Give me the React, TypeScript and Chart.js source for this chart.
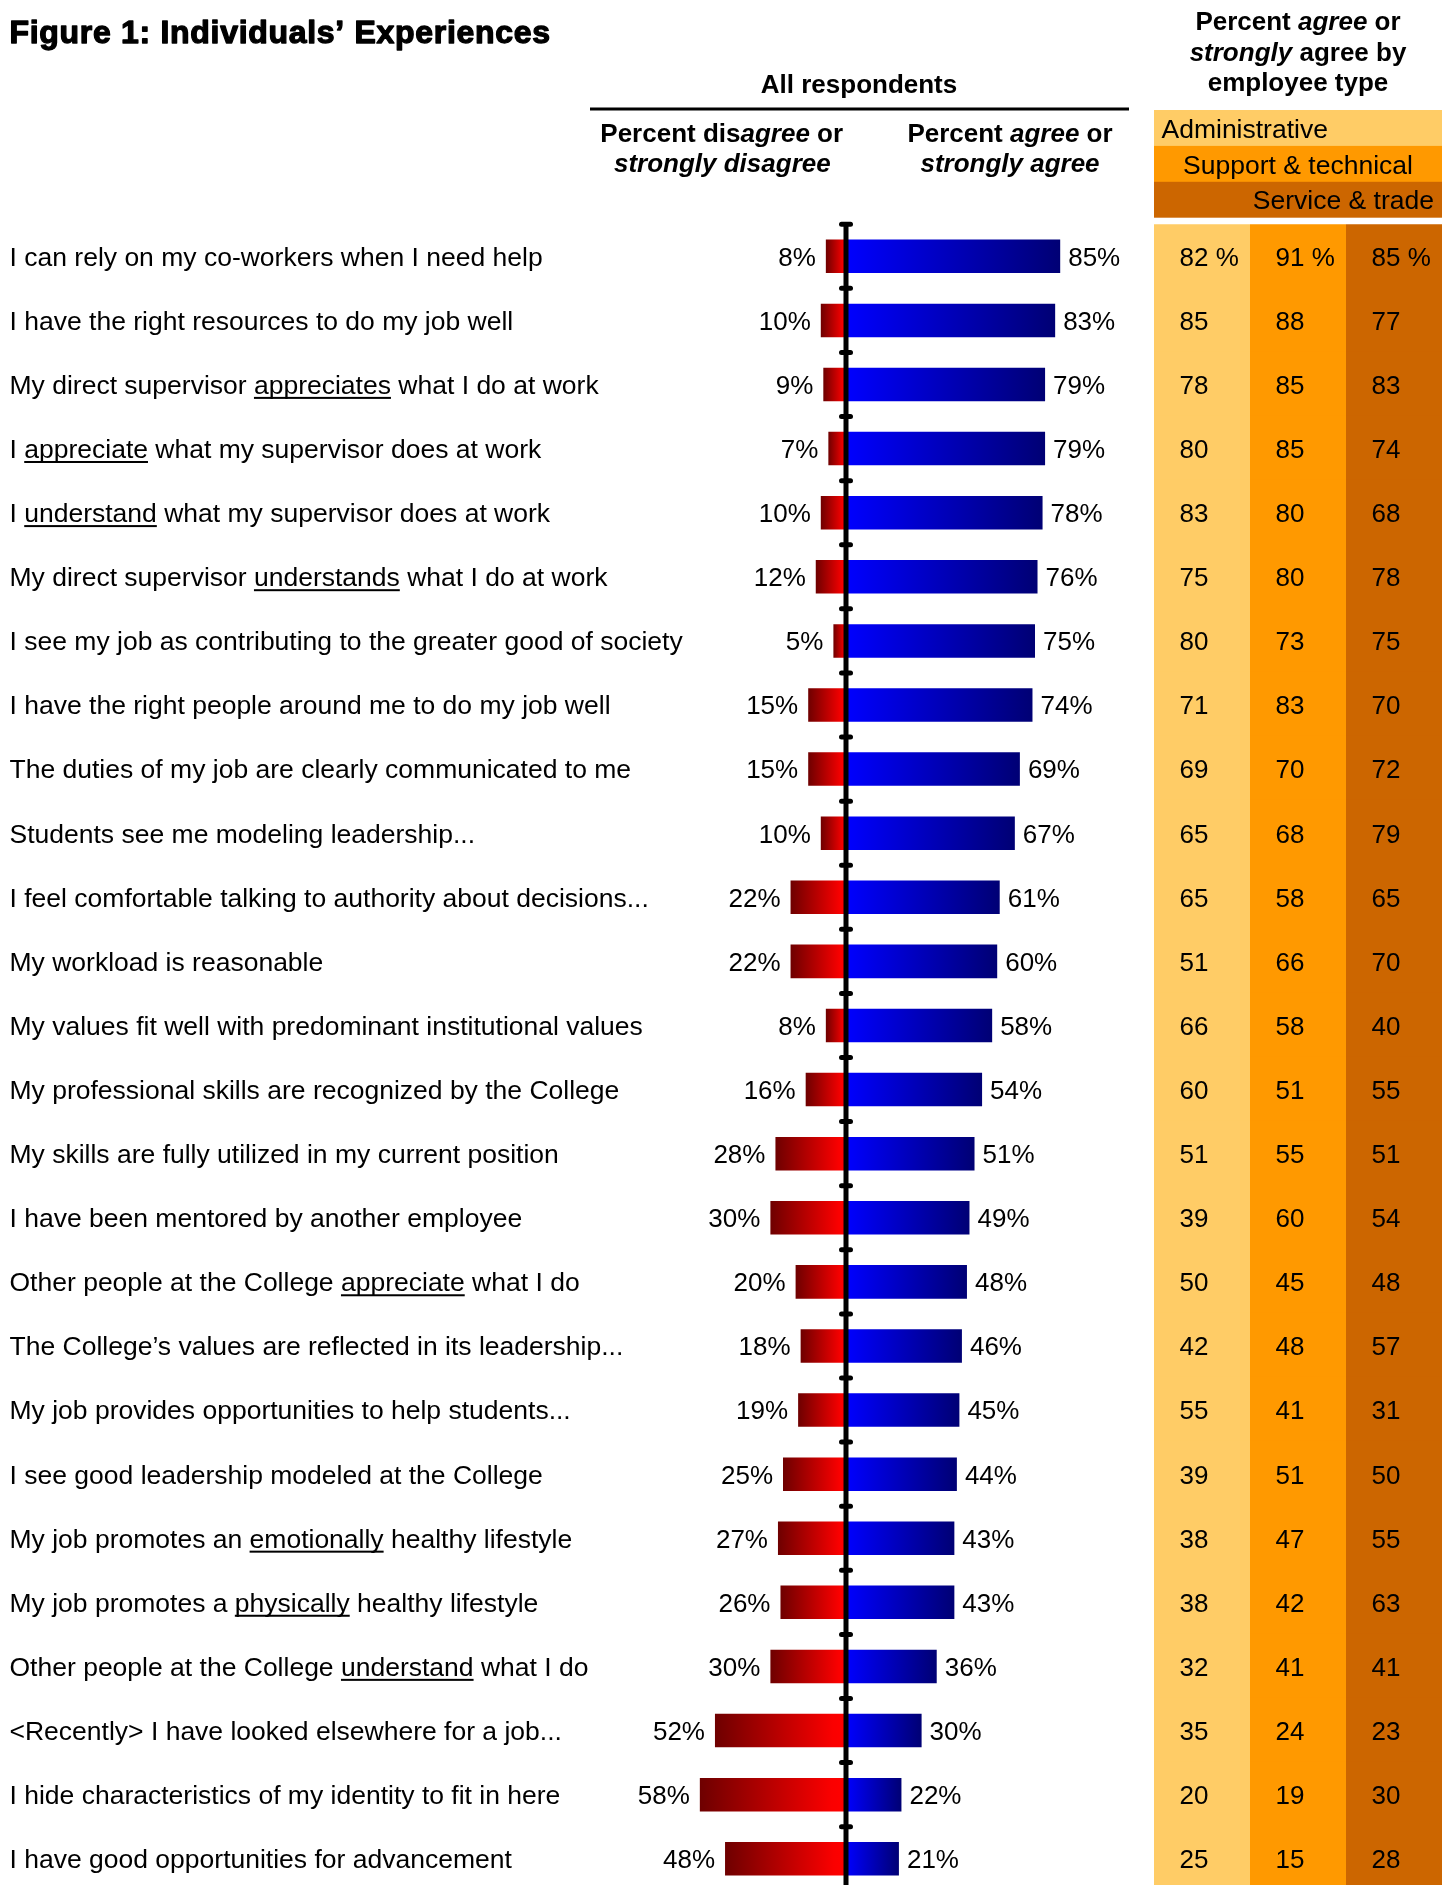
import React, { useEffect, useRef } from "react";
import { Chart, registerables } from "chart.js";

Chart.register(...registerables);

// ---------- data ----------
const categories = [
  "I can rely on my co-workers when I need help",
  "I have the right resources to do my job well",
  "My direct supervisor _appreciates_ what I do at work",
  "I _appreciate_ what my supervisor does at work",
  "I _understand_ what my supervisor does at work",
  "My direct supervisor _understands_ what I do at work",
  "I see my job as contributing to the greater good of society",
  "I have the right people around me to do my job well",
  "The duties of my job are clearly communicated to me",
  "Students see me modeling leadership...",
  "I feel comfortable talking to authority about decisions...",
  "My workload is reasonable",
  "My values fit well with predominant institutional values",
  "My professional skills are recognized by the College",
  "My skills are fully utilized in my current position",
  "I have been mentored by another employee",
  "Other people at the College _appreciate_ what I do",
  "The College\u2019s values are reflected in its leadership...",
  "My job provides opportunities to help students...",
  "I see good leadership modeled at the College",
  "My job promotes an _emotionally_ healthy lifestyle",
  "My job promotes a _physically_ healthy lifestyle",
  "Other people at the College _understand_ what I do",
  "<Recently> I have looked elsewhere for a job...",
  "I hide characteristics of my identity to fit in here",
  "I have good opportunities for advancement",
];

const disagreePct = [8, 10, 9, 7, 10, 12, 5, 15, 15, 10, 22, 22, 8, 16, 28, 30, 20, 18, 19, 25, 27, 26, 30, 52, 58, 48];
const agreePct = [85, 83, 79, 79, 78, 76, 75, 74, 69, 67, 61, 60, 58, 54, 51, 49, 48, 46, 45, 44, 43, 43, 36, 30, 22, 21];

const adminPct = [82, 85, 78, 80, 83, 75, 80, 71, 69, 65, 65, 51, 66, 60, 51, 39, 50, 42, 55, 39, 38, 38, 32, 35, 20, 25];
const supportPct = [91, 88, 85, 85, 80, 80, 73, 83, 70, 68, 58, 66, 58, 51, 55, 60, 45, 48, 41, 51, 47, 42, 41, 24, 19, 15];
const servicePct = [85, 77, 83, 74, 68, 78, 75, 70, 72, 79, 65, 70, 40, 55, 51, 54, 48, 57, 31, 50, 55, 63, 41, 23, 30, 28];

const employeeTypes = ["Administrative", "Support & technical", "Service & trade"];
const typeColors = ["#FFCC66", "#FF9900", "#CC6600"];

const titleText = "Figure 1: Individuals\u2019 Experiences";

// ---------- layout / style ----------
const W = 1451;
const H = 1891;
const FONT = '"Liberation Sans", Arial, Helvetica, sans-serif';
const ZERO_X = 846;
const PX_PER_PCT = 2.52;
const TABLE_LEFT = 1154;
const TABLE_COL_W = 96;

type Seg = { t: string; i?: boolean; u?: boolean };

function parseLabel(s: string): Seg[] {
  return s.split("_").map((t, k) => ({ t, u: k % 2 === 1 })).filter((s) => s.t.length > 0);
}

function drawSegs(
  c: CanvasRenderingContext2D,
  segs: Seg[],
  x: number,
  y: number,
  size: number,
  bold: boolean,
  align: "left" | "center" | "right"
) {
  const f = (it?: boolean) => `${it ? "italic " : ""}${bold ? "bold " : ""}${size}px ${FONT}`;
  const widths = segs.map((s) => {
    c.font = f(s.i);
    return c.measureText(s.t).width;
  });
  const total = widths.reduce((a, b) => a + b, 0);
  let sx = align === "center" ? x - total / 2 : align === "right" ? x - total : x;
  c.textAlign = "left";
  c.textBaseline = "alphabetic";
  segs.forEach((s, k) => {
    c.font = f(s.i);
    c.fillText(s.t, sx, y);
    if (s.u) c.fillRect(sx, y + 3, widths[k], 2);
    sx += widths[k];
  });
}

function gradientFor(ctx: any, stops: [number, string][]) {
  const chart = ctx.chart;
  const xs = chart.scales && chart.scales.x;
  const v = ctx.raw;
  if (ctx.type !== "data" || !xs || typeof v !== "number") return stops[0][1];
  const x0 = xs.getPixelForValue(0);
  const x1 = xs.getPixelForValue(v);
  if (!isFinite(x0) || !isFinite(x1) || Math.abs(x1 - x0) < 0.5) return stops[0][1];
  const g = chart.ctx.createLinearGradient(x0, 0, x1, 0);
  stops.forEach(([o, col]) => g.addColorStop(o, col));
  return g;
}

const redStops: [number, string][] = [
  [0, "#ff0000"],
  [0.1, "#fa0000"],
  [1, "#6e0000"],
];
const blueStops: [number, string][] = [
  [0, "#0000ff"],
  [1, "#000074"],
];

const overlayPlugin = {
  id: "overlay",
  afterDatasetsDraw(chart: any) {
    const c: CanvasRenderingContext2D = chart.ctx;
    const xs = chart.scales.x;
    const xt = chart.scales.xt;
    const ys = chart.scales.y;
    const area = chart.chartArea;
    const n = categories.length;
    const band = ys.getPixelForValue(1) - ys.getPixelForValue(0);
    c.save();

    // central axis
    const x0 = xs.getPixelForValue(0);
    c.strokeStyle = "#000";
    c.lineWidth = 5;
    c.lineCap = "butt";
    c.beginPath();
    c.moveTo(x0, area.top - 1);
    c.lineTo(x0, area.bottom);
    c.stroke();
    // tick dots at category boundaries
    c.lineCap = "round";
    c.lineWidth = 5;
    for (let i = 0; i <= n; i++) {
      const yb = ys.getPixelForValue(0) - band / 2 + i * band;
      c.beginPath();
      c.moveTo(x0 - 4.5, yb);
      c.lineTo(x0 + 4.5, yb);
      c.stroke();
    }

    c.fillStyle = "#000";
    for (let i = 0; i < n; i++) {
      const yc = ys.getPixelForValue(i);
      const base = yc + 9.4;
      // row label
      drawSegs(c, parseLabel(categories[i]), 9.5, base, 26.5, false, "left");
      // value labels
      c.font = `26px ${FONT}`;
      c.textBaseline = "alphabetic";
      c.textAlign = "right";
      c.fillText(`${disagreePct[i]}%`, xs.getPixelForValue(-disagreePct[i]) - 10, base);
      c.textAlign = "left";
      c.fillText(`${agreePct[i]}%`, xs.getPixelForValue(agreePct[i]) + 8, base);
      // table numbers
      const cols = [adminPct, supportPct, servicePct];
      cols.forEach((arr, k) => {
        const txt = i === 0 ? `${arr[i]} %` : `${arr[i]}`;
        c.textAlign = "left";
        c.fillText(txt, xt.getPixelForValue(k) + 25.5, base);
      });
    }

    // title (heavy weight)
    c.font = `bold 32px ${FONT}`;
    (c as any).letterSpacing = "0.7px";
    c.textAlign = "left";
    c.textBaseline = "alphabetic";
    c.fillText(titleText, 9.5, 42.7);
    c.lineWidth = 1.3;
    c.lineJoin = "round";
    c.strokeStyle = "#000";
    c.strokeText(titleText, 9.5, 42.7);
    (c as any).letterSpacing = "0px";

    // All respondents header
    drawSegs(c, [{ t: "All respondents" }], 859, 93.3, 26, true, "center");
    c.fillRect(590, 107.5, 539, 3);
    drawSegs(c, [{ t: "Percent dis" }, { t: "agree", i: true }, { t: " or" }], 721.7, 142.3, 26, true, "center");
    drawSegs(c, [{ t: "strongly disagree", i: true }], 722.3, 171.7, 26, true, "center");
    drawSegs(c, [{ t: "Percent " }, { t: "agree", i: true }, { t: " or" }], 1010, 142.3, 26, true, "center");
    drawSegs(c, [{ t: "strongly agree", i: true }], 1010, 171.7, 26, true, "center");

    // table header
    const tx = (xt.getPixelForValue(0) + xt.getPixelForValue(3)) / 2;
    drawSegs(c, [{ t: "Percent " }, { t: "agree", i: true }, { t: " or" }], tx, 30, 26, true, "center");
    drawSegs(c, [{ t: "strongly", i: true }, { t: " agree by" }], tx, 61, 26, true, "center");
    drawSegs(c, [{ t: "employee type" }], tx, 91.3, 26, true, "center");

    // legend boxes
    const lx0 = xt.getPixelForValue(0);
    const lx1 = xt.getPixelForValue(3);
    const boxTop = 110;
    const boxH = 35.9;
    employeeTypes.forEach((name, k) => {
      const top = boxTop + k * boxH;
      c.fillStyle = typeColors[k];
      c.fillRect(lx0, top, lx1 - lx0, boxH + (k < 2 ? 0.5 : 0));
      c.fillStyle = "#000";
      const base = top + 27.6;
      if (k === 0) drawSegs(c, [{ t: name }], lx0 + 7.5, base, 26.5, false, "left");
      else if (k === 1) drawSegs(c, [{ t: name }], (lx0 + lx1) / 2, base, 26.5, false, "center");
      else drawSegs(c, [{ t: name }], lx1 - 8, base, 26.5, false, "right");
    });

    c.restore();
  },
};

export default function App() {
  const ref = useRef<HTMLCanvasElement | null>(null);

  useEffect(() => {
    if (!ref.current) return;
    const cellSpan = categories.map(() => 1);
    const tableDataset = (k: number) => ({
      label: employeeTypes[k],
      data: cellSpan.map((s) => [k, k + s]),
      xAxisID: "xt",
      backgroundColor: typeColors[k],
      borderWidth: 0,
      grouped: false,
      barPercentage: 1.04,
      categoryPercentage: 1,
    });
    const chart = new Chart(ref.current, {
      type: "bar",
      data: {
        labels: categories.map((s) => s.replace(/_/g, "")),
        datasets: [
          {
            label: "Percent disagree or strongly disagree",
            data: disagreePct.map((v) => -v),
            xAxisID: "x",
            backgroundColor: (ctx: any) => gradientFor(ctx, redStops),
            borderWidth: 0,
            grouped: false,
            barPercentage: 0.523,
            categoryPercentage: 1,
          },
          {
            label: "Percent agree or strongly agree",
            data: agreePct,
            xAxisID: "x",
            backgroundColor: (ctx: any) => gradientFor(ctx, blueStops),
            borderWidth: 0,
            grouped: false,
            barPercentage: 0.523,
            categoryPercentage: 1,
          },
          tableDataset(0),
          tableDataset(1),
          tableDataset(2),
        ] as any,
      },
      options: {
        indexAxis: "y",
        responsive: false,
        animation: false,
        devicePixelRatio: 1,
        layout: { padding: { top: 224.25, bottom: 0.2, left: 0, right: 0 } },
        scales: {
          x: {
            type: "linear",
            display: false,
            min: -ZERO_X / PX_PER_PCT,
            max: (W - ZERO_X) / PX_PER_PCT,
          },
          xt: {
            type: "linear",
            display: false,
            min: -TABLE_LEFT / TABLE_COL_W,
            max: (W - TABLE_LEFT) / TABLE_COL_W,
          },
          y: {
            type: "category",
            display: false,
            offset: true,
          },
        },
        plugins: {
          legend: { display: false },
          tooltip: { enabled: false },
          title: { display: false },
        },
      } as any,
      plugins: [overlayPlugin],
    });
    return () => chart.destroy();
  }, []);

  return (
    <div
      style={{
        position: "fixed",
        left: 0,
        top: 0,
        width: W,
        height: 1885,
        overflow: "hidden",
        background: "#fff",
      }}
    >
      <canvas ref={ref} width={W} height={H} style={{ display: "block", width: W, height: H }} />
    </div>
  );
}
